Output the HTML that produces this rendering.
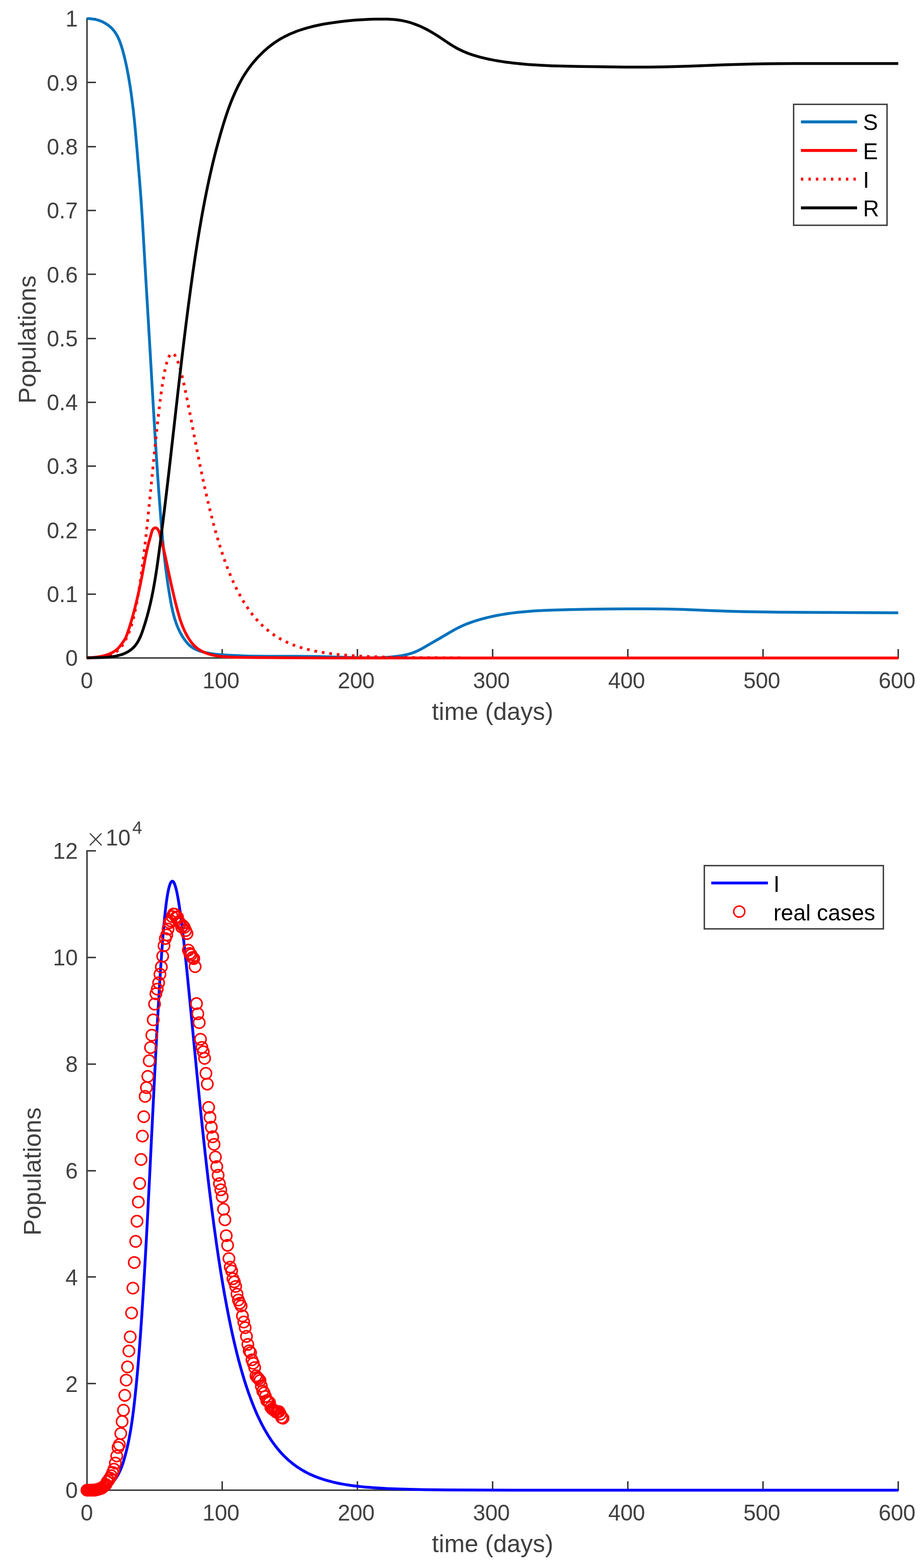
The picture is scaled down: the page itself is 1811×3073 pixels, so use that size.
<!DOCTYPE html>
<html lang="en">
<head>
<meta charset="utf-8">
<title>SEIR model populations</title>
<style>
html,body{margin:0;padding:0;background:#fff;}
body{width:1811px;height:3073px;overflow:hidden;font-family:"Liberation Sans",Arial,Helvetica,sans-serif;}
svg{display:block;}
</style>
</head>
<body>
<svg xmlns="http://www.w3.org/2000/svg" width="1811" height="3073" viewBox="0 0 1811 3073" font-family="'Liberation Sans', Arial, Helvetica, sans-serif">
<rect width="1811" height="3073" fill="#fff"/>
<g id="plot1">
<g stroke="#404040" stroke-width="3.0" fill="none">
<path d="M170.5,35.0 V1291.0"/>
<path d="M169.0,1289.5 H1762.0"/>
<path d="M170.5,1289.5 v-17.5"/>
<path d="M435.5,1289.5 v-17.5"/>
<path d="M700.5,1289.5 v-17.5"/>
<path d="M965.5,1289.5 v-17.5"/>
<path d="M1230.5,1289.5 v-17.5"/>
<path d="M1495.5,1289.5 v-17.5"/>
<path d="M1760.5,1289.5 v-17.5"/>
<path d="M170.5,1289.5 h17.5"/>
<path d="M170.5,1164.5 h17.5"/>
<path d="M170.5,1038.5 h17.5"/>
<path d="M170.5,913.5 h17.5"/>
<path d="M170.5,788.5 h17.5"/>
<path d="M170.5,663.5 h17.5"/>
<path d="M170.5,537.5 h17.5"/>
<path d="M170.5,412.5 h17.5"/>
<path d="M170.5,287.5 h17.5"/>
<path d="M170.5,161.5 h17.5"/>
<path d="M170.5,36.5 h17.5"/>
</g>
<g fill="#404040" font-size="43.75px">
<text x="170.0" y="1349.3" text-anchor="middle" letter-spacing="-0.35">0</text>
<text x="433.1" y="1349.3" text-anchor="middle" letter-spacing="-0.35">100</text>
<text x="698.1" y="1349.3" text-anchor="middle" letter-spacing="-0.35">200</text>
<text x="963.1" y="1349.3" text-anchor="middle" letter-spacing="-0.35">300</text>
<text x="1228.1" y="1349.3" text-anchor="middle" letter-spacing="-0.35">400</text>
<text x="1493.1" y="1349.3" text-anchor="middle" letter-spacing="-0.35">500</text>
<text x="1758.1" y="1349.3" text-anchor="middle" letter-spacing="-0.35">600</text>
<text x="152.5" y="1305.3" text-anchor="end">0</text>
<text x="152.5" y="1180.0" text-anchor="end">0.1</text>
<text x="152.5" y="1054.7" text-anchor="end">0.2</text>
<text x="152.5" y="929.4" text-anchor="end">0.3</text>
<text x="152.5" y="804.1" text-anchor="end">0.4</text>
<text x="152.5" y="678.8" text-anchor="end">0.5</text>
<text x="152.5" y="553.5" text-anchor="end">0.6</text>
<text x="152.5" y="428.2" text-anchor="end">0.7</text>
<text x="152.5" y="302.9" text-anchor="end">0.8</text>
<text x="152.5" y="177.6" text-anchor="end">0.9</text>
<text x="152.5" y="52.3" text-anchor="end">1</text>
</g>
<g fill="#404040" font-size="48.1px">
<text x="965.5" y="1411.3" text-anchor="middle">time (days)</text>
<text transform="translate(70.3,665.4) rotate(-90)" text-anchor="middle">Populations</text>
</g>
<g fill="none" stroke-width="5.5" stroke-linejoin="round">
<path stroke="#0072bd" d="M170.5,36.5 L174.81,36.58 L179.22,36.89 L183.6,37.45 L186.87,38.06 L190.1,38.84 L194.36,40.14 L198.52,41.73 L202.57,43.59 L206.47,45.72 L210.22,48.11 L213.77,50.74 L216.3,52.86 L217.92,54.35 L219.47,55.89 L221.68,58.31 L223.74,60.83 L226.27,64.37 L228.01,67.13 L230.15,70.95 L232.09,74.9 L233.85,78.96 L235.47,83.11 L236.95,87.33 L238.66,92.67 L240.24,98.05 L242.02,104.5 L243.95,112.04 L245.48,118.51 L247.16,126.07 L248.73,133.63 L250.41,142.3 L252,150.98 L253.49,159.68 L254.9,168.4 L256.38,178.22 L257.62,186.97 L258.93,196.83 L261.32,216.58 L263.65,238.58 L265.74,260.62 L267.95,285.99 L273.34,351.01 L275.99,385.16 L277.69,409.42 L279.49,438.12 L284.37,522.06 L292.22,654.49 L300.68,800.24 L303.82,852.14 L306.7,897.39 L308.85,929.39 L310.93,959.16 L313.12,988.92 L315.26,1016.47 L316.99,1037.39 L318.75,1057.2 L320.45,1074.8 L322.19,1091.29 L324.48,1111.07 L326.89,1129.74 L329.4,1147.3 L332.17,1164.84 L334.84,1180.18 L336.1,1186.74 L337.22,1192.17 L338.43,1197.58 L339.73,1202.95 L341.15,1208.28 L342.38,1212.51 L344.04,1217.74 L345.48,1221.88 L347.02,1225.98 L348.68,1230.03 L350.47,1234.03 L352.38,1237.97 L354.42,1241.85 L356.61,1245.67 L358.96,1249.42 L360.82,1252.19 L363.44,1255.81 L365.53,1258.44 L367.73,1260.97 L370.05,1263.37 L372.5,1265.62 L375.09,1267.7 L377.81,1269.57 L380.67,1271.25 L383.64,1272.75 L386.71,1274.08 L389.84,1275.27 L394.09,1276.67 L398.38,1277.88 L403.77,1279.17 L408.11,1280.05 L412.47,1280.8 L416.84,1281.44 L422.32,1282.11 L427.82,1282.66 L434.43,1283.21 L450.98,1284.29 L462.03,1284.85 L473.07,1285.29 L484.12,1285.64 L496.28,1285.91 L509.55,1286.11 L523.93,1286.24 L584.78,1286.36 L611.31,1286.6 L635.61,1287.09 L691.97,1288.68 L714.11,1289.16 L724.08,1289.25 L734.04,1289.2 L742.88,1289 L750.61,1288.7 L760.53,1288.09 L769.33,1287.3 L778.1,1286.26 L786.85,1284.94 L791.21,1284.16 L794.46,1283.49 L797.7,1282.75 L800.92,1281.93 L806.21,1280.36 L809.35,1279.28 L812.46,1278.11 L816.55,1276.4 L820.57,1274.55 L824.53,1272.56 L828.42,1270.45 L833.22,1267.7 L845.58,1260.37 L862.87,1250.5 L883.8,1238.08 L890.53,1234.27 L896.38,1231.15 L900.34,1229.17 L904.34,1227.29 L908.39,1225.49 L912.47,1223.78 L916.6,1222.15 L920.75,1220.59 L924.94,1219.11 L930.2,1217.35 L935.5,1215.69 L940.81,1214.12 L946.14,1212.64 L952.56,1210.97 L957.93,1209.67 L964.39,1208.2 L969.78,1207.06 L976.27,1205.79 L982.78,1204.61 L989.31,1203.53 L995.85,1202.54 L1002.4,1201.63 L1015.55,1200.05 L1029.84,1198.66 L1038.66,1197.95 L1047.49,1197.34 L1057.44,1196.76 L1067.4,1196.27 L1088.45,1195.49 L1116.15,1194.79 L1153.75,1194.08 L1192.4,1193.59 L1231.06,1193.35 L1269.75,1193.35 L1301.86,1193.56 L1314.05,1193.73 L1325.12,1193.98 L1341.69,1194.52 L1389.16,1196.48 L1423.42,1197.7 L1457.7,1198.65 L1493.08,1199.33 L1525.15,1199.73 L1563.85,1200.04 L1708.71,1200.82 L1760.5,1200.94"/>
<path stroke="#ff0000" d="M170.5,1288.93 L178.47,1288.67 L184.91,1288.24 L191.32,1287.54 L194.51,1287.07 L197.68,1286.51 L203.21,1285.29 L206.34,1284.45 L208.67,1283.74 L211.75,1282.68 L214.02,1281.8 L216.26,1280.84 L218.45,1279.8 L220.59,1278.68 L222.68,1277.47 L226.02,1275.26 L227.93,1273.8 L229.16,1272.77 L230.93,1271.15 L232.06,1270.01 L234.74,1266.97 L237.72,1263.09 L243.36,1255.1 L244.67,1253.08 L245.86,1250.99 L246.56,1249.55 L247.49,1247.33 L249.95,1240.48 L253.03,1231.28 L256.17,1221.24 L258.91,1211.94 L261.51,1202.59 L264.18,1192.43 L266.72,1182.24 L268.97,1172.82 L271.29,1162.59 L273.35,1153.13 L275.49,1142.86 L278.9,1125.43 L284.32,1096.01 L286.68,1084.13 L289.13,1073.11 L290.47,1067.64 L291.7,1062.98 L295.45,1049.77 L297.56,1041.73 L298.4,1039.42 L299.16,1038 L299.61,1037.34 L300.69,1036.14 L301.3,1035.63 L301.95,1035.2 L302.63,1034.86 L303.33,1034.62 L304.05,1034.48 L304.76,1034.46 L305.46,1034.54 L306.14,1034.75 L306.78,1035.05 L307.4,1035.46 L307.99,1035.94 L309.08,1037.12 L310.04,1038.51 L311.21,1040.77 L311.83,1042.32 L312.57,1044.67 L318.31,1066.58 L321.54,1079.91 L324.7,1094.1 L332.02,1128.88 L336.34,1148.59 L341.45,1170.6 L343.94,1180.81 L346.51,1191 L348.58,1198.82 L350.33,1205.05 L352.19,1211.24 L353.93,1216.61 L355.8,1221.94 L357.81,1227.22 L359.97,1232.43 L361.97,1236.85 L364.85,1242.65 L367.59,1247.63 L370.57,1252.5 L373.33,1256.53 L376.29,1260.39 L377.85,1262.24 L379.47,1264.03 L381.15,1265.76 L382.9,1267.42 L385.94,1270.02 L389.17,1272.4 L391.19,1273.72 L393.26,1274.96 L395.38,1276.13 L397.55,1277.23 L402,1279.21 L406.58,1280.93 L408.91,1281.69 L412.03,1282.62 L417.55,1283.99 L423.1,1285.09 L427.08,1285.72 L431.08,1286.25 L435.09,1286.68 L439.91,1287.09 L445.54,1287.47 L451.18,1287.76 L464.1,1288.2 L484.29,1288.55 L512.56,1288.85 L549.71,1289.08 L595.73,1289.27 L657.91,1289.41 L732.19,1289.47 L1760.5,1289.45"/>
<path stroke="#ff0000" stroke-dasharray="5.2 9.6" d="M170.5,1289.5 L179.51,1289.48 L183.75,1288.94 L193.82,1287.9 L198.85,1287.3 L203.62,1286.59 L207.87,1285.78 L211.05,1285.01 L213.96,1284.18 L216.61,1283.29 L219.26,1282.23 L221.91,1280.98 L224.3,1279.67 L226.41,1278.33 L228.53,1276.78 L230.92,1274.8 L233.31,1272.56 L235.43,1270.32 L237.55,1267.82 L239.4,1265.37 L241.25,1262.63 L243.11,1259.56 L244.97,1256.24 L247.35,1251.74 L249.2,1247.95 L250.8,1244.43 L252.65,1239.94 L254.5,1235.05 L256.1,1230.49 L257.69,1225.54 L259.27,1220.13 L260.6,1215.21 L261.93,1209.91 L263.25,1204.28 L264.84,1197.11 L267.49,1184.19 L270.14,1169.84 L272.52,1155.55 L275.18,1138.04 L277.3,1122.75 L280.21,1100.13 L282.33,1082.93 L284.72,1062.59 L286.84,1043.66 L289.22,1021.47 L292.93,985.21 L303,883.68 L305.91,855.36 L308.3,833.05 L310.69,811.8 L313.07,791.84 L315.46,773.38 L317.57,758.38 L318.9,749.73 L320.23,741.66 L321.55,734.19 L322.61,728.65 L323.94,722.29 L325,717.65 L326.06,713.45 L327.38,708.83 L328.44,705.6 L329.76,702.12 L331.09,699.21 L332.41,696.86 L333.21,695.7 L333.74,695.05 L334.27,694.48 L335.06,693.79 L335.6,693.42 L336.39,693.02 L337.19,692.79 L337.72,692.73 L338.25,692.76 L338.77,692.87 L339.84,693.33 L340.89,694.12 L341.96,695.23 L343.01,696.63 L344.07,698.33 L345.13,700.3 L346.46,703.14 L347.52,705.69 L348.85,709.22 L349.9,712.3 L351.23,716.44 L353.62,724.67 L356.26,734.83 L358.38,743.63 L360.5,752.94 L362.89,763.92 L365.54,776.63 L370.84,803.2 L383.56,869.12 L389.92,901.39 L393.37,918.36 L396.81,934.89 L399.99,949.72 L403.17,964.11 L406.88,980.33 L410.59,995.92 L414.3,1010.87 L418.01,1025.17 L421.72,1038.84 L425.43,1051.88 L429.14,1064.31 L433.12,1076.97 L437.09,1088.96 L441.33,1101.06 L445.31,1111.77 L449.55,1122.55 L453.79,1132.7 L458.29,1142.84 L462.8,1152.33 L467.3,1161.23 L471.81,1169.56 L476.57,1177.8 L481.35,1185.48 L486.38,1193.03 L491.42,1200.03 L494.06,1203.51 L496.72,1206.85 L502.01,1213.16 L504.67,1216.13 L507.58,1219.27 L510.5,1222.28 L513.41,1225.15 L516.33,1227.91 L519.24,1230.54 L522.15,1233.07 L525.34,1235.7 L528.25,1238 L531.43,1240.4 L534.61,1242.69 L537.79,1244.88 L540.97,1246.96 L544.41,1249.1 L547.86,1251.14 L551.31,1253.08 L554.75,1254.92 L558.46,1256.79 L562.17,1258.57 L565.88,1260.24 L569.59,1261.83 L573.57,1263.44 L577.54,1264.95 L581.52,1266.37 L589.73,1269.06 L598.21,1271.51 L607.22,1273.79 L616.76,1275.89 L626.57,1277.75 L636.37,1279.36 L646.71,1280.82 L657.57,1282.13 L668.97,1283.29 L681.15,1284.33 L694.14,1285.25 L707.92,1286.04 L722.76,1286.73 L738.39,1287.31 L755.36,1287.8 L773.9,1288.22 L794.31,1288.56 L816.84,1288.83 L842.01,1289.04 L904.82,1289.32"/>
<path stroke="#000000" d="M170.5,1289.24 L193.5,1288.8 L203.25,1288.46 L208.5,1288.15 L213,1287.77 L217.25,1287.31 L221.75,1286.69 L226.25,1285.92 L230.5,1285.03 L234.75,1283.94 L238.25,1282.87 L242.5,1281.32 L245.75,1279.91 L249,1278.27 L252,1276.54 L255,1274.55 L257.75,1272.46 L260,1270.52 L262.25,1268.33 L264.5,1265.81 L266.75,1262.93 L268.75,1260.01 L270.5,1257.13 L272.25,1253.9 L274,1250.3 L275.75,1246.29 L277.25,1242.51 L279,1237.74 L281,1231.9 L283,1225.77 L285,1219.34 L288.5,1207.27 L291.75,1194.98 L294.75,1182.53 L297.75,1168.81 L300.5,1154.93 L303.25,1139.61 L305.75,1124.29 L308.25,1107.6 L311.25,1085.91 L315.25,1055.26 L319.5,1021.58 L323.75,986.85 L328,951.14 L332.5,912.36 L349,766.26 L356.25,703.73 L360.5,668.34 L364.75,633.99 L369,600.77 L373,570.54 L377.75,536.07 L382.25,505.09 L386.75,475.86 L391.25,448.37 L396,421.17 L400.75,395.72 L405.5,371.9 L408,359.97 L410.5,348.44 L413.5,335.11 L416.75,321.24 L420,307.93 L423.5,294.19 L426.75,281.94 L430.25,269.26 L433.75,257.07 L437.5,244.53 L440.75,234.13 L443.75,224.96 L446.75,216.23 L450,207.27 L453.25,198.81 L456.5,190.84 L459.75,183.31 L463.25,175.68 L466.75,168.5 L470.25,161.75 L474,154.97 L477.75,148.62 L481.5,142.68 L485.5,136.77 L489.5,131.25 L493.5,126.07 L498,120.6 L503,114.91 L508,109.58 L513,104.57 L518.25,99.62 L523.5,94.99 L529,90.46 L534.5,86.26 L538.75,83.23 L543.25,80.23 L547.75,77.42 L552.5,74.66 L557.75,71.83 L562.5,69.44 L567.5,67.1 L573,64.7 L578,62.68 L583.75,60.51 L589.5,58.51 L595.5,56.59 L601.5,54.81 L608,53.05 L614.25,51.5 L621,49.97 L628,48.52 L635.75,47.07 L643.75,45.72 L652.25,44.43 L661.25,43.19 L670.75,42.02 L679.75,41.03 L689.25,40.11 L698.25,39.36 L707.75,38.69 L716.75,38.19 L725.5,37.81 L735,37.53 L744.25,37.38 L752.75,37.38 L759.75,37.52 L764.5,37.71 L768.75,37.97 L773,38.31 L776.75,38.69 L781,39.23 L784.5,39.76 L788,40.38 L791.5,41.08 L795,41.87 L799.25,42.95 L802.75,43.93 L806.25,44.99 L810.25,46.31 L813.75,47.56 L817.75,49.09 L821.25,50.51 L827.5,53.28 L834,56.45 L840.75,60.03 L847.75,64.05 L853,67.24 L859,71.06 L876.75,82.95 L883.5,87.36 L889.5,91.06 L895.5,94.49 L898.75,96.21 L902.5,98.08 L906.5,99.96 L910,101.5 L914,103.15 L918,104.71 L922,106.17 L926.25,107.62 L931.25,109.21 L936.25,110.68 L941.5,112.12 L946.75,113.44 L952,114.67 L958,115.97 L964,117.17 L970.25,118.33 L977,119.49 L984,120.6 L991.25,121.66 L998.25,122.6 L1005.25,123.47 L1013,124.34 L1028,125.79 L1036,126.44 L1044.75,127.07 L1062.25,128.1 L1081,128.91 L1102.25,129.56 L1135,130.22 L1190.5,131.08 L1224.25,131.4 L1254.25,131.48 L1272,131.4 L1289.5,131.21 L1305.5,130.94 L1322.25,130.54 L1355.75,129.49 L1419.5,127.09 L1446,126.18 L1473.25,125.44 L1500,124.95 L1526.5,124.68 L1556.5,124.54 L1644,124.59 L1760.5,124.45"/>
</g>
<rect x="1555.45" y="204.5" width="183.1" height="237.0" fill="#fff" stroke="#404040" stroke-width="2.8"/>
<g fill="none" stroke-width="5.6">
<path stroke="#0072bd" d="M1569.8,238.9 H1679.8"/>
<path stroke="#ff0000" d="M1569.8,294.9 H1679.8"/>
<path stroke="#ff0000" stroke-dasharray="4.6 10.1" d="M1569.8,351.1 H1679.8"/>
<path stroke="#000000" d="M1569.8,407.4 H1679.8"/>
</g>
<g fill="#000" font-size="43.75px">
<text x="1691.4" y="255.0">S</text>
<text x="1691.4" y="311.6">E</text>
<text x="1691.4" y="367.9">I</text>
<text x="1691.4" y="424.4">R</text>
</g>
</g>
<g id="plot2">
<g stroke="#404040" stroke-width="3.0" fill="none">
<path d="M170.5,1666.0 V2922.0"/>
<path d="M169.0,2920.5 H1762.0"/>
<path d="M170.5,2920.5 v-17.5"/>
<path d="M435.5,2920.5 v-17.5"/>
<path d="M700.5,2920.5 v-17.5"/>
<path d="M965.5,2920.5 v-17.5"/>
<path d="M1230.5,2920.5 v-17.5"/>
<path d="M1495.5,2920.5 v-17.5"/>
<path d="M1760.5,2920.5 v-17.5"/>
<path d="M170.5,2920.5 h17.5"/>
<path d="M170.5,2711.5 h17.5"/>
<path d="M170.5,2502.5 h17.5"/>
<path d="M170.5,2294.5 h17.5"/>
<path d="M170.5,2085.5 h17.5"/>
<path d="M170.5,1876.5 h17.5"/>
<path d="M170.5,1667.5 h17.5"/>
</g>
<g fill="#404040" font-size="43.75px">
<text x="170.0" y="2980.2" text-anchor="middle" letter-spacing="-0.35">0</text>
<text x="433.1" y="2980.2" text-anchor="middle" letter-spacing="-0.35">100</text>
<text x="698.1" y="2980.2" text-anchor="middle" letter-spacing="-0.35">200</text>
<text x="963.1" y="2980.2" text-anchor="middle" letter-spacing="-0.35">300</text>
<text x="1228.1" y="2980.2" text-anchor="middle" letter-spacing="-0.35">400</text>
<text x="1493.1" y="2980.2" text-anchor="middle" letter-spacing="-0.35">500</text>
<text x="1758.1" y="2980.2" text-anchor="middle" letter-spacing="-0.35">600</text>
<text x="152.5" y="2936.3" text-anchor="end">0</text>
<text x="152.5" y="2727.5" text-anchor="end">2</text>
<text x="152.5" y="2518.6" text-anchor="end">4</text>
<text x="152.5" y="2309.8" text-anchor="end">6</text>
<text x="152.5" y="2101.0" text-anchor="end">8</text>
<text x="152.5" y="1892.1" text-anchor="end">10</text>
<text x="152.5" y="1683.3" text-anchor="end">12</text>
</g>
<g fill="#404040" font-size="48.1px">
<text x="965.5" y="3042" text-anchor="middle">time (days)</text>
<text transform="translate(80.4,2295.9) rotate(-90)" text-anchor="middle">Populations</text>
</g>
<g fill="#404040"><text x="167.8" y="1659.8" font-size="47.3px" font-weight="200" font-family="'DejaVu Sans Light', 'DejaVu Sans', sans-serif">×</text><text x="207.2" y="1657" font-size="43.75px">10</text><text x="259.2" y="1634.2" font-size="35px">4</text></g>
<path fill="none" stroke="#0000ff" stroke-width="5.5" stroke-linejoin="round" d="M170.5,2920.5 L179.51,2920.46 L183.75,2919.39 L193.82,2917.3 L198.85,2916.1 L201.24,2915.44 L203.62,2914.68 L205.75,2913.92 L207.87,2913.05 L211.05,2911.53 L213.96,2909.86 L216.61,2908.08 L219.26,2905.96 L221.91,2903.47 L224.3,2900.84 L226.41,2898.16 L228.53,2895.06 L230.92,2891.09 L233.31,2886.62 L235.43,2882.15 L237.55,2877.13 L239.4,2872.24 L241.25,2866.76 L243.11,2860.63 L244.97,2853.98 L247.35,2844.98 L249.2,2837.4 L250.8,2830.35 L252.65,2821.38 L254.5,2811.6 L256.1,2802.47 L257.69,2792.58 L259.27,2781.76 L260.6,2771.91 L261.93,2761.33 L263.25,2750.05 L264.84,2735.71 L267.49,2709.88 L270.14,2681.18 L272.52,2652.59 L275.18,2617.58 L277.3,2587 L280.21,2541.76 L282.33,2507.36 L284.72,2466.68 L286.84,2428.83 L289.22,2384.44 L292.93,2311.93 L303,2108.85 L305.91,2052.22 L308.3,2007.61 L310.69,1965.11 L313.07,1925.19 L315.46,1888.27 L317.57,1858.27 L318.9,1840.96 L320.23,1824.82 L321.55,1809.88 L322.61,1798.8 L323.94,1786.08 L325,1776.8 L326.06,1768.4 L327.38,1759.15 L328.44,1752.7 L329.76,1745.73 L331.09,1739.93 L332.41,1735.22 L333.21,1732.91 L333.74,1731.59 L334.27,1730.46 L335.06,1729.07 L335.6,1728.34 L336.39,1727.54 L337.19,1727.08 L337.72,1726.97 L338.25,1727.01 L338.51,1727.1 L339.04,1727.4 L339.57,1727.87 L340.1,1728.5 L340.63,1729.29 L341.69,1731.35 L342.49,1733.29 L343.54,1736.39 L344.61,1740.06 L345.67,1744.27 L346.73,1749 L347.78,1754.23 L348.85,1759.94 L350.17,1767.7 L352.56,1783.29 L354.94,1800.75 L357.32,1819.83 L359.98,1842.64 L362.89,1869.33 L366.07,1899.95 L371.63,1956.06 L386.48,2109.58 L390.98,2154.8 L395.22,2196.13 L398.93,2231.14 L402.64,2264.99 L406.35,2297.61 L409.8,2326.77 L414.57,2365.32 L419.6,2403.71 L424.37,2437.94 L426.75,2454.28 L429.4,2471.85 L431.79,2487.14 L434.44,2503.57 L436.82,2517.86 L439.47,2533.2 L441.86,2546.54 L444.51,2560.85 L447.16,2574.63 L449.81,2587.91 L452.72,2601.95 L455.64,2615.41 L458.56,2628.33 L461.47,2640.71 L464.38,2652.58 L467.56,2664.97 L470.75,2676.8 L473.93,2688.09 L477.11,2698.86 L480.29,2709.14 L483.47,2718.95 L486.91,2729.08 L490.36,2738.69 L493.8,2747.83 L497.25,2756.51 L500.95,2765.38 L504.67,2773.77 L508.38,2781.71 L512.09,2789.22 L516.06,2796.82 L520.04,2803.98 L524.01,2810.73 L527.99,2817.09 L532.22,2823.47 L536.46,2829.46 L540.71,2835.08 L545.21,2840.67 L549.71,2845.89 L554.49,2851.06 L559.26,2855.86 L564.02,2860.33 L569.06,2864.72 L573.04,2867.96 L577.01,2871.01 L580.99,2873.88 L585.22,2876.76 L589.47,2879.46 L593.71,2881.99 L598.21,2884.52 L602.72,2886.87 L607.49,2889.2 L612.26,2891.37 L617.02,2893.39 L622.06,2895.36 L627.1,2897.2 L632.39,2898.98 L637.69,2900.63 L643.26,2902.22 L648.83,2903.69 L654.65,2905.1 L660.75,2906.45 L666.85,2907.68 L673.21,2908.85 L679.83,2909.95 L686.72,2910.99 L693.61,2911.93 L700.76,2912.8 L708.45,2913.64 L716.13,2914.39 L724.35,2915.1 L732.83,2915.74 L741.84,2916.34 L760.92,2917.38 L776.56,2918.03 L793.25,2918.58 L811.53,2919.04 L831.94,2919.43 L854.2,2919.73 L879.38,2919.97 L941.39,2920.29 L1008.43,2920.42 L1108.6,2920.48 L1760.5,2920.5"/>
<g fill="none" stroke="#ff0000" stroke-width="3.0">
<circle cx="170.4" cy="2920.5" r="11.05"/>
<circle cx="173.1" cy="2920.5" r="11.05"/>
<circle cx="175.8" cy="2920.5" r="11.05"/>
<circle cx="178.4" cy="2920.4" r="11.05"/>
<circle cx="181.0" cy="2920.4" r="11.05"/>
<circle cx="183.7" cy="2920.4" r="11.05"/>
<circle cx="186.3" cy="2920.2" r="11.05"/>
<circle cx="189.0" cy="2919.6" r="11.05"/>
<circle cx="191.6" cy="2918.8" r="11.05"/>
<circle cx="194.3" cy="2918.1" r="11.05"/>
<circle cx="196.9" cy="2917.1" r="11.05"/>
<circle cx="199.6" cy="2916.4" r="11.05"/>
<circle cx="202.2" cy="2914.2" r="11.05"/>
<circle cx="204.9" cy="2911.8" r="11.05"/>
<circle cx="207.5" cy="2909.4" r="11.05"/>
<circle cx="210.2" cy="2903.8" r="11.05"/>
<circle cx="212.8" cy="2901.1" r="11.05"/>
<circle cx="215.5" cy="2896.6" r="11.05"/>
<circle cx="218.1" cy="2892.0" r="11.05"/>
<circle cx="220.8" cy="2885.8" r="11.05"/>
<circle cx="223.4" cy="2879.3" r="11.05"/>
<circle cx="226.1" cy="2867.3" r="11.05"/>
<circle cx="228.8" cy="2853.5" r="11.05"/>
<circle cx="231.4" cy="2836.7" r="11.05"/>
<circle cx="234.0" cy="2831.2" r="11.05"/>
<circle cx="236.7" cy="2809.5" r="11.05"/>
<circle cx="239.3" cy="2785.9" r="11.05"/>
<circle cx="242.0" cy="2763.8" r="11.05"/>
<circle cx="244.6" cy="2734.6" r="11.05"/>
<circle cx="247.3" cy="2704.7" r="11.05"/>
<circle cx="249.9" cy="2678.9" r="11.05"/>
<circle cx="252.6" cy="2647.7" r="11.05"/>
<circle cx="255.2" cy="2620.0" r="11.05"/>
<circle cx="257.9" cy="2573.2" r="11.05"/>
<circle cx="260.5" cy="2524.5" r="11.05"/>
<circle cx="263.2" cy="2474.2" r="11.05"/>
<circle cx="265.9" cy="2432.9" r="11.05"/>
<circle cx="268.5" cy="2393.4" r="11.05"/>
<circle cx="271.1" cy="2355.7" r="11.05"/>
<circle cx="273.8" cy="2319.3" r="11.05"/>
<circle cx="276.4" cy="2272.4" r="11.05"/>
<circle cx="279.1" cy="2226.5" r="11.05"/>
<circle cx="281.8" cy="2188.5" r="11.05"/>
<circle cx="284.4" cy="2148.7" r="11.05"/>
<circle cx="287.0" cy="2131.5" r="11.05"/>
<circle cx="289.7" cy="2109.6" r="11.05"/>
<circle cx="292.4" cy="2078.9" r="11.05"/>
<circle cx="295.0" cy="2053.1" r="11.05"/>
<circle cx="297.6" cy="2028.8" r="11.05"/>
<circle cx="300.3" cy="1998.7" r="11.05"/>
<circle cx="302.9" cy="1967.8" r="11.05"/>
<circle cx="305.6" cy="1947.6" r="11.05"/>
<circle cx="308.2" cy="1938.5" r="11.05"/>
<circle cx="310.9" cy="1926.1" r="11.05"/>
<circle cx="313.5" cy="1909.4" r="11.05"/>
<circle cx="316.2" cy="1894.9" r="11.05"/>
<circle cx="318.9" cy="1874.1" r="11.05"/>
<circle cx="321.5" cy="1853.5" r="11.05"/>
<circle cx="324.1" cy="1839.3" r="11.05"/>
<circle cx="326.8" cy="1832.4" r="11.05"/>
<circle cx="329.4" cy="1820.7" r="11.05"/>
<circle cx="332.1" cy="1808.4" r="11.05"/>
<circle cx="334.8" cy="1804.8" r="11.05"/>
<circle cx="337.4" cy="1796.4" r="11.05"/>
<circle cx="340.0" cy="1791.4" r="11.05"/>
<circle cx="342.7" cy="1791.7" r="11.05"/>
<circle cx="345.4" cy="1797.3" r="11.05"/>
<circle cx="348.0" cy="1797.5" r="11.05"/>
<circle cx="350.6" cy="1806.4" r="11.05"/>
<circle cx="353.3" cy="1809.8" r="11.05"/>
<circle cx="355.9" cy="1817.0" r="11.05"/>
<circle cx="358.6" cy="1814.4" r="11.05"/>
<circle cx="361.2" cy="1817.4" r="11.05"/>
<circle cx="363.9" cy="1823.8" r="11.05"/>
<circle cx="366.5" cy="1829.6" r="11.05"/>
<circle cx="369.2" cy="1862.1" r="11.05"/>
<circle cx="371.9" cy="1868.5" r="11.05"/>
<circle cx="374.5" cy="1871.0" r="11.05"/>
<circle cx="377.1" cy="1876.5" r="11.05"/>
<circle cx="379.8" cy="1878.6" r="11.05"/>
<circle cx="382.4" cy="1894.4" r="11.05"/>
<circle cx="385.1" cy="1966.9" r="11.05"/>
<circle cx="387.8" cy="1986.8" r="11.05"/>
<circle cx="390.4" cy="2004.2" r="11.05"/>
<circle cx="393.0" cy="2036.8" r="11.05"/>
<circle cx="395.7" cy="2052.7" r="11.05"/>
<circle cx="398.4" cy="2061.4" r="11.05"/>
<circle cx="401.0" cy="2074.2" r="11.05"/>
<circle cx="403.6" cy="2103.6" r="11.05"/>
<circle cx="406.3" cy="2124.6" r="11.05"/>
<circle cx="408.9" cy="2170.3" r="11.05"/>
<circle cx="411.6" cy="2189.9" r="11.05"/>
<circle cx="414.2" cy="2209.1" r="11.05"/>
<circle cx="416.9" cy="2227.9" r="11.05"/>
<circle cx="419.5" cy="2242.7" r="11.05"/>
<circle cx="422.2" cy="2267.6" r="11.05"/>
<circle cx="424.9" cy="2286.3" r="11.05"/>
<circle cx="427.5" cy="2303.4" r="11.05"/>
<circle cx="430.1" cy="2319.7" r="11.05"/>
<circle cx="432.8" cy="2331.8" r="11.05"/>
<circle cx="435.4" cy="2345.3" r="11.05"/>
<circle cx="438.1" cy="2369.9" r="11.05"/>
<circle cx="440.8" cy="2390.6" r="11.05"/>
<circle cx="443.4" cy="2421.7" r="11.05"/>
<circle cx="446.1" cy="2440.6" r="11.05"/>
<circle cx="448.7" cy="2466.5" r="11.05"/>
<circle cx="451.3" cy="2483.3" r="11.05"/>
<circle cx="454.0" cy="2490.7" r="11.05"/>
<circle cx="456.6" cy="2506.1" r="11.05"/>
<circle cx="459.3" cy="2512.2" r="11.05"/>
<circle cx="461.9" cy="2521.2" r="11.05"/>
<circle cx="464.6" cy="2536.3" r="11.05"/>
<circle cx="467.2" cy="2547.7" r="11.05"/>
<circle cx="469.9" cy="2554.1" r="11.05"/>
<circle cx="472.6" cy="2559.5" r="11.05"/>
<circle cx="475.2" cy="2578.9" r="11.05"/>
<circle cx="477.8" cy="2590.9" r="11.05"/>
<circle cx="480.5" cy="2602.0" r="11.05"/>
<circle cx="483.1" cy="2619.1" r="11.05"/>
<circle cx="485.8" cy="2634.8" r="11.05"/>
<circle cx="488.4" cy="2647.4" r="11.05"/>
<circle cx="491.1" cy="2651.1" r="11.05"/>
<circle cx="493.8" cy="2665.0" r="11.05"/>
<circle cx="496.4" cy="2671.7" r="11.05"/>
<circle cx="499.1" cy="2680.2" r="11.05"/>
<circle cx="501.7" cy="2696.4" r="11.05"/>
<circle cx="504.3" cy="2699.8" r="11.05"/>
<circle cx="507.0" cy="2702.3" r="11.05"/>
<circle cx="509.6" cy="2705.7" r="11.05"/>
<circle cx="512.3" cy="2716.7" r="11.05"/>
<circle cx="515.0" cy="2726.2" r="11.05"/>
<circle cx="517.6" cy="2729.9" r="11.05"/>
<circle cx="520.2" cy="2736.7" r="11.05"/>
<circle cx="522.9" cy="2745.0" r="11.05"/>
<circle cx="525.5" cy="2746.6" r="11.05"/>
<circle cx="528.2" cy="2748.5" r="11.05"/>
<circle cx="530.8" cy="2758.1" r="11.05"/>
<circle cx="533.5" cy="2761.3" r="11.05"/>
<circle cx="536.1" cy="2763.2" r="11.05"/>
<circle cx="538.8" cy="2765.0" r="11.05"/>
<circle cx="541.5" cy="2767.7" r="11.05"/>
<circle cx="544.1" cy="2767.4" r="11.05"/>
<circle cx="546.8" cy="2766.6" r="11.05"/>
<circle cx="549.4" cy="2771.4" r="11.05"/>
<circle cx="552.0" cy="2778.1" r="11.05"/>
<circle cx="554.7" cy="2779.5" r="11.05"/>
</g>
<rect x="1380.45" y="1696.45" width="350.9" height="123.95" fill="#fff" stroke="#404040" stroke-width="2.8"/>
<path fill="none" stroke="#0000ff" stroke-width="5.6" d="M1394.1,1730.5 H1505"/>
<circle cx="1448.9" cy="1786.5" r="10.9" fill="none" stroke="#ff0000" stroke-width="2.8"/>
<g fill="#000" font-size="43.75px"><text x="1516" y="1748.1">I</text><text x="1516" y="1803.6">real cases</text></g>
</g>
</svg>
</body>
</html>
